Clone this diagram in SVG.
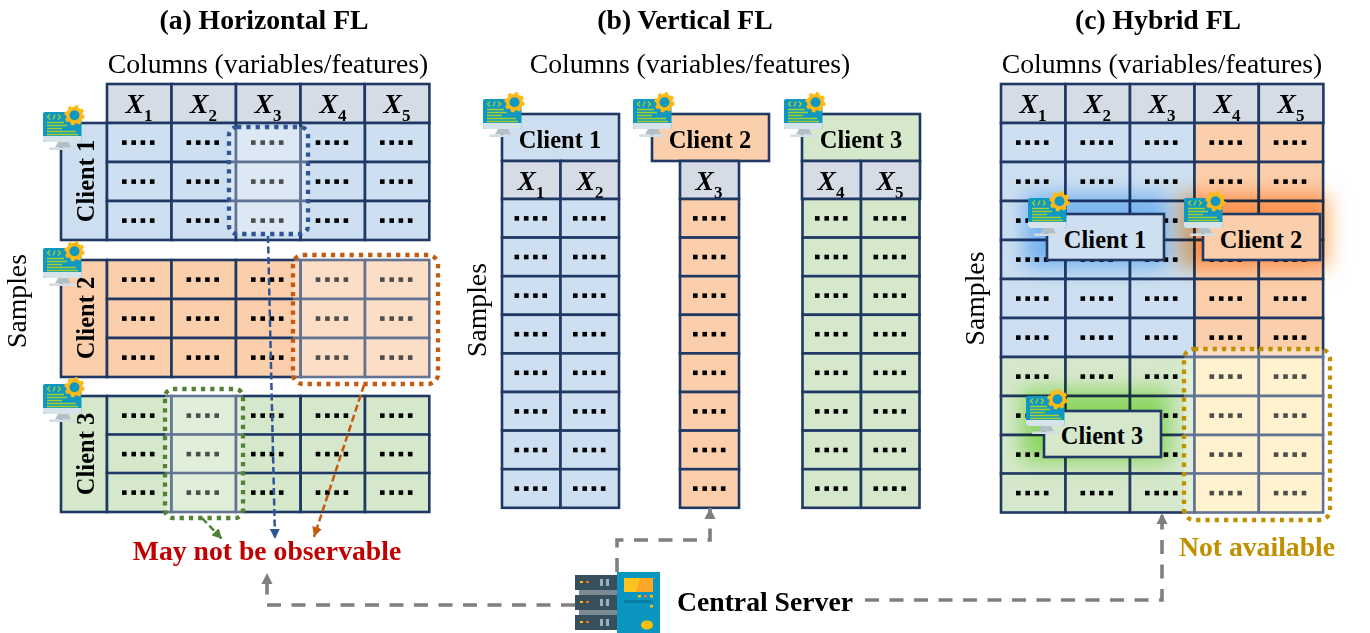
<svg xmlns="http://www.w3.org/2000/svg" width="1370" height="633" viewBox="0 0 1370 633">
<style>
text{font-family:"Liberation Serif","Times New Roman",serif;fill:#000}
.t{font-size:27.7px;font-weight:bold;text-anchor:middle}
.c{font-size:27.7px;text-anchor:middle}
.l{font-size:24.5px;font-weight:bold;text-anchor:middle}
.x{font-size:27.5px;font-weight:bold;font-style:italic;text-anchor:middle}
.s{font-size:17px;font-weight:bold;font-style:normal}
.cell{stroke:#203864;stroke-width:2.6}
.dot{fill:#000;stroke:none}
.blue{fill:#cddff0}.orange{fill:#fbcfac}.green{fill:#d5e8cb}.head{fill:#d6dce5}.yellow{fill:#ffecb9}
.veil{fill:#fff;fill-opacity:.3;stroke-width:4.3;stroke-dasharray:4.3 5}
.glow{mix-blend-mode:multiply;filter:url(#blur)}
.thin{fill:none;stroke-width:2.5;stroke-dasharray:7 3.5}
.srv{fill:none;stroke:#7f7f7f;stroke-width:3.6;stroke-dasharray:14 10.5}
</style>
<defs>
<filter id="blur" x="-30%" y="-40%" width="160%" height="180%"><feGaussianBlur stdDeviation="10"/></filter>
<marker id="mGray" markerUnits="userSpaceOnUse" markerWidth="12" markerHeight="12" refX="11" refY="6" orient="auto"><path d="M0 0.5L11 6L0 11.500z" fill="#7f7f7f"/></marker>
<marker id="mBlue" markerUnits="userSpaceOnUse" markerWidth="11" markerHeight="11" refX="10" refY="5.500" orient="auto"><path d="M0 0.500L10 5.500L0 10.500z" fill="#2f5597"/></marker>
<marker id="mOrange" markerUnits="userSpaceOnUse" markerWidth="11" markerHeight="11" refX="10" refY="5.500" orient="auto"><path d="M0 0.500L10 5.500L0 10.500z" fill="#c55a11"/></marker>
<marker id="mGreen" markerUnits="userSpaceOnUse" markerWidth="11" markerHeight="11" refX="10" refY="5.500" orient="auto"><path d="M0 0.500L10 5.500L0 10.500z" fill="#548235"/></marker>
<g id="d"><rect class="dot" x="-17" y="-2.300" width="4.600" height="4.600"/><rect class="dot" x="-7.600" y="-2.300" width="4.600" height="4.600"/><rect class="dot" x="1.600" y="-2.300" width="4.600" height="4.600"/><rect class="dot" x="10.900" y="-2.300" width="4.600" height="4.600"/></g>
<g id="r3"><rect class="cell" width="64.500" height="39"/><rect class="cell" x="64.500" width="64.500" height="39"/><rect class="cell" x="129" width="64.500" height="39"/><use href="#d" x="32" y="19.600"/><use href="#d" x="96.500" y="19.600"/><use href="#d" x="161" y="19.600"/></g>
<g id="r2"><rect class="cell" width="64.300" height="39"/><rect class="cell" x="64.300" width="64.300" height="39"/><use href="#d" x="32" y="19.600"/><use href="#d" x="96.300" y="19.600"/></g>
<g id="v2"><rect class="cell" width="58.500" height="38.600"/><rect class="cell" x="58.500" width="58.500" height="38.600"/><use href="#d" x="29.500" y="19.400"/><use href="#d" x="88" y="19.400"/></g>
<g id="v1"><rect class="cell" width="59" height="38.600"/><use href="#d" x="30" y="19.400"/></g>
<g id="hd5"><rect class="cell head" width="64.500" height="39"/><rect class="cell head" x="64.500" width="64.500" height="39"/><rect class="cell head" x="129" width="64.500" height="39"/><rect class="cell head" x="193.500" width="64.300" height="39"/><rect class="cell head" x="257.800" width="64.600" height="39"/>
<text class="x" x="32" y="29">X<tspan class="s" dy="7.500">1</tspan></text><text class="x" x="96.500" y="29">X<tspan class="s" dy="7.500">2</tspan></text><text class="x" x="161" y="29">X<tspan class="s" dy="7.500">3</tspan></text><text class="x" x="226" y="29">X<tspan class="s" dy="7.500">4</tspan></text><text class="x" x="290" y="29">X<tspan class="s" dy="7.500">5</tspan></text></g>
<g id="pc">
<rect x="0" y="5" width="38.500" height="30" rx="2" fill="#1098c0"/>
<path d="M0 29h38.500v3.500a2.500 2.500 0 0 1-2.500 2.500H2.500A2.500 2.500 0 0 1 0 32.500z" fill="#d7e3ea"/>
<path d="M15 35h10l3 5.500h-16z" fill="#b1bfc7"/><rect x="6" y="40.500" width="27" height="2.500" rx="1" fill="#d3dde3"/>
<g fill="none" stroke="#a5cf2e" stroke-width="1.300"><path d="M4 15.500h17M4 18.500h20M4 21.500h15M4 24.500h29M4 27.500h31"/><path d="M7 7.500l-2.500 2.500 2.500 2.500M12 7.500l-2 5M15 7.500l2.500 2.500-2.500 2.500"/></g>
<circle cx="31.500" cy="8.300" r="6.800" fill="#1098c0" stroke="#ffb915" stroke-width="3.500"/>
<circle cx="31.500" cy="8.300" r="8.900" fill="none" stroke="#ffb915" stroke-width="2.600" stroke-dasharray="3.500 3.490"/>
</g>
</defs>
<rect width="1370" height="633" fill="#fff"/>

<g id="titles">
<text class="t" x="264" y="29">(a) Horizontal FL</text>
<text class="t" x="685" y="29">(b) Vertical FL</text>
<text class="t" x="1158" y="29">(c) Hybrid FL</text>
<text class="c" x="268" y="73">Columns (variables/features)</text>
<text class="c" x="690" y="73">Columns (variables/features)</text>
<text class="c" x="1162" y="73">Columns (variables/features)</text>
<text class="c" transform="translate(26,301) rotate(-90)">Samples</text>
<text class="c" transform="translate(486,310) rotate(-90)">Samples</text>
<text class="c" transform="translate(984,298.500) rotate(-90)">Samples</text>
</g>

<g id="panel-a-header"><use href="#hd5" x="107" y="84"/></g>
<g id="a-client-1">
<rect class="cell blue" x="61" y="123" width="46" height="117"/>
<g class="blue"><use href="#r3" x="107" y="123"/><use href="#r2" x="300.700" y="123"/><use href="#r3" x="107" y="162"/><use href="#r2" x="300.700" y="162"/><use href="#r3" x="107" y="201"/><use href="#r2" x="300.700" y="201"/></g>
<text class="l" transform="translate(94,181) rotate(-90)">Client 1</text>
<use href="#pc" x="43" y="107"/>
</g>
<g id="a-client-2">
<rect class="cell orange" x="61" y="260" width="46" height="117"/>
<g class="orange"><use href="#r3" x="107" y="260"/><use href="#r2" x="300.700" y="260"/><use href="#r3" x="107" y="299"/><use href="#r2" x="300.700" y="299"/><use href="#r3" x="107" y="338"/><use href="#r2" x="300.700" y="338"/></g>
<text class="l" transform="translate(94,318) rotate(-90)">Client 2</text>
<use href="#pc" x="43" y="243"/>
</g>
<g id="a-client-3">
<rect class="cell green" x="61" y="396" width="46" height="116"/>
<g class="green"><use href="#r3" x="107" y="396"/><use href="#r2" x="300.700" y="396"/><use href="#r3" x="107" y="434.500"/><use href="#r2" x="300.700" y="434.500"/><use href="#r3" x="107" y="473"/><use href="#r2" x="300.700" y="473"/></g>
<text class="l" transform="translate(94,454) rotate(-90)">Client 3</text>
<use href="#pc" x="43" y="379"/>
</g>
<g id="a-hidden-blue"><rect class="veil" x="229" y="127" width="79" height="107" rx="8" stroke="#2f5597"/></g>
<g id="a-hidden-orange"><rect class="veil" x="293" y="255" width="145" height="129" rx="10" stroke="#c55a11"/></g>
<g id="a-hidden-green"><rect class="veil" x="165" y="389" width="78" height="129" rx="8" stroke="#548235"/></g>

<g id="b-client-1" class="blue">
<rect class="cell blue" x="502" y="114" width="117" height="47"/>
<text class="l" x="560" y="148">Client 1</text>
<rect class="cell head" x="502" y="161" width="58.500" height="38"/><rect class="cell head" x="560.500" y="161" width="58.500" height="38"/>
<text class="x" x="531" y="190">X<tspan class="s" dy="7.500">1</tspan></text><text class="x" x="590" y="190">X<tspan class="s" dy="7.500">2</tspan></text>
<use href="#v2" x="502" y="199"/><use href="#v2" x="502" y="237.600"/><use href="#v2" x="502" y="276.200"/><use href="#v2" x="502" y="314.800"/><use href="#v2" x="502" y="353.400"/><use href="#v2" x="502" y="392"/><use href="#v2" x="502" y="430.600"/><use href="#v2" x="502" y="469.200"/>
<use href="#pc" x="483" y="94"/>
</g>
<g id="b-client-2" class="orange">
<rect class="cell orange" x="652" y="114" width="117" height="47"/>
<text class="l" x="710" y="148">Client 2</text>
<rect class="cell head" x="680" y="161" width="59" height="38"/>
<text class="x" x="709" y="190">X<tspan class="s" dy="7.500">3</tspan></text>
<use href="#v1" x="680" y="199"/><use href="#v1" x="680" y="237.600"/><use href="#v1" x="680" y="276.200"/><use href="#v1" x="680" y="314.800"/><use href="#v1" x="680" y="353.400"/><use href="#v1" x="680" y="392"/><use href="#v1" x="680" y="430.600"/><use href="#v1" x="680" y="469.200"/>
<use href="#pc" x="633" y="94"/>
</g>
<g id="b-client-3" class="green">
<rect class="cell green" x="802" y="114" width="118" height="47"/>
<text class="l" x="861" y="148">Client 3</text>
<rect class="cell head" x="802" y="161" width="59" height="38"/><rect class="cell head" x="861" y="161" width="59" height="38"/>
<text class="x" x="831" y="190">X<tspan class="s" dy="7.500">4</tspan></text><text class="x" x="890" y="190">X<tspan class="s" dy="7.500">5</tspan></text>
<use href="#v2" x="802.500" y="199"/><use href="#v2" x="802.500" y="237.600"/><use href="#v2" x="802.500" y="276.200"/><use href="#v2" x="802.500" y="314.800"/><use href="#v2" x="802.500" y="353.400"/><use href="#v2" x="802.500" y="392"/><use href="#v2" x="802.500" y="430.600"/><use href="#v2" x="802.500" y="469.200"/>
<use href="#pc" x="784" y="94"/>
</g>

<g id="c-grid">
<use href="#hd5" x="1001" y="84"/>
<g class="blue"><use href="#r3" x="1001" y="123"/><use href="#r3" x="1001" y="162"/><use href="#r3" x="1001" y="201"/><use href="#r3" x="1001" y="240"/><use href="#r3" x="1001" y="279"/><use href="#r3" x="1001" y="318"/></g>
<g class="orange"><use href="#r2" x="1194.500" y="123"/><use href="#r2" x="1194.500" y="162"/><use href="#r2" x="1194.500" y="201"/><use href="#r2" x="1194.500" y="240"/><use href="#r2" x="1194.500" y="279"/><use href="#r2" x="1194.500" y="318"/></g>
<g class="green"><use href="#r3" x="1001" y="357"/><use href="#r3" x="1001" y="396"/><use href="#r3" x="1001" y="435"/><use href="#r3" x="1001" y="473.500"/></g>
<g class="yellow"><use href="#r2" x="1194.500" y="357"/><use href="#r2" x="1194.500" y="396"/><use href="#r2" x="1194.500" y="435"/><use href="#r2" x="1194.500" y="473.500"/></g>
</g>
<g id="c-client-1">
<rect class="glow" x="1024" y="194" width="144" height="74" rx="6" fill="#94ceff"/>
<rect class="cell blue" x="1047" y="214" width="117" height="46"/>
<text class="l" x="1105" y="248">Client 1</text>
<use href="#pc" x="1028" y="193"/>
</g>
<g id="c-client-2">
<rect class="glow" x="1179" y="194" width="150" height="74" rx="6" fill="#ffb474"/>
<rect class="cell orange" x="1203" y="214" width="117" height="46"/>
<text class="l" x="1261" y="248">Client 2</text>
<use href="#pc" x="1184" y="193"/>
</g>
<g id="c-client-3">
<rect class="glow" x="1022" y="390" width="148" height="72" rx="6" fill="#a8ec7c"/>
<rect class="cell green" x="1044" y="411" width="117" height="46"/>
<text class="l" x="1102" y="444">Client 3</text>
<use href="#pc" x="1026" y="391"/>
</g>
<g id="c-hidden-yellow"><rect class="veil" x="1184" y="349" width="146" height="171" rx="10" stroke="#bf9000"/></g>

<g id="connectors">
<path class="thin" stroke="#2f5597" d="M268 236L275 539" marker-end="url(#mBlue)"/>
<path class="thin" stroke="#c55a11" d="M364 385L314 537" marker-end="url(#mOrange)"/>
<path class="thin" stroke="#548235" d="M202 518L222 539" marker-end="url(#mGreen)"/>
<path class="srv" d="M575 605H267V573" marker-end="url(#mGray)"/>
<path class="srv" d="M617 572V540H710V508" marker-end="url(#mGray)"/>
<path class="srv" d="M865 600H1162V513" marker-end="url(#mGray)"/>
</g>

<g id="central-server">
<g fill="#37505e"><rect x="575" y="575" width="42" height="15"/><rect x="575" y="595" width="42" height="15"/><rect x="575" y="615" width="42" height="15"/></g>
<g fill="#7b8a93"><rect x="579" y="590" width="38" height="5"/><rect x="579" y="610" width="38" height="5"/></g>
<g fill="#9fb0ba"><rect x="600" y="579" width="3" height="7"/><rect x="606" y="579" width="3" height="7"/><rect x="600" y="599" width="3" height="7"/><rect x="606" y="599" width="3" height="7"/><rect x="600" y="619" width="3" height="7"/><rect x="606" y="619" width="3" height="7"/></g>
<g fill="#ffc107"><rect x="580" y="581" width="3" height="2"/><rect x="580" y="601" width="3" height="2"/><rect x="580" y="621" width="3" height="2"/></g>
<g fill="#f0703a"><rect x="586" y="581" width="3" height="2"/><rect x="586" y="601" width="3" height="2"/><rect x="586" y="621" width="3" height="2"/></g>
<rect x="617" y="572" width="43" height="61" fill="#0a96bf"/>
<rect x="624" y="578" width="29" height="14" fill="#ffc11e"/><path d="M640 578h13v14h-17z" fill="#fca626"/>
<rect x="624" y="600" width="29" height="3" fill="#0a7fa6"/>
<g fill="#ffc107"><rect x="638" y="595" width="3" height="2.500"/><rect x="650" y="595" width="3" height="2.500"/><rect x="650" y="605" width="3" height="2.500"/></g><rect x="644" y="595" width="3" height="2.500" fill="#f0703a"/>
<ellipse cx="647" cy="625" rx="6" ry="4.500" fill="#ffc107"/>
<text class="t" x="765" y="611">Central Server</text>
</g>
<g id="notes">
<text class="t" x="267" y="560" style="fill:#c00000">May not be observable</text>
<text class="t" x="1257" y="556" style="fill:#bf9000">Not available</text>
</g>
</svg>
